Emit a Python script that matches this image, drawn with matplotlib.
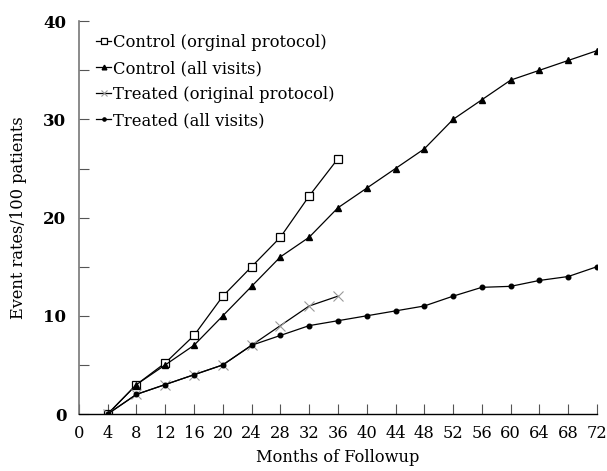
import matplotlib
matplotlib.use("Agg")
import matplotlib.pyplot as plt
from matplotlib.ticker import MultipleLocator

# event rates per 100 patients by month of followup
months_orig = [4, 8, 12, 16, 20, 24, 28, 32, 36]
months_all = [4, 8, 12, 16, 20, 24, 28, 32, 36, 40, 44, 48, 52, 56, 60, 64, 68, 72]

control_orig = [0, 3, 5.2, 8, 12, 15, 18, 22.2, 26]
control_all = [0, 3, 5, 7, 10, 13, 16, 18, 21, 23, 25, 27, 30, 32, 34, 35, 36, 37]
treated_orig = [0, 2, 3, 4, 5, 7, 9, 11, 12]
treated_all = [0, 2, 3, 4, 5, 7, 8, 9, 9.5, 10, 10.5, 11, 12, 12.9, 13, 13.6, 14, 15]

x_ticks = list(range(0, 73, 4))
y_ticks = [0, 10, 20, 30, 40]

plt.rcParams['font.family'] = ['DejaVu Serif']

fig = plt.figure(figsize=(6.07, 4.71), dpi=100)
ax = fig.add_axes([0.130, 0.121, 0.8535, 0.834])

ax.plot(months_orig, control_orig, color='black', lw=0.9, marker='s', ms=5.5,
        mfc='white', mec='black', mew=0.9, label='Control (orginal protocol)')
ax.plot(months_all, control_all, color='black', lw=0.9, marker='^', ms=4.8,
        label='Control (all visits)')
ax.plot(months_orig, treated_orig, color='black', lw=0.9, marker='x', ms=6.5,
        mec='#999999', mew=0.8, label='Treated (original protocol)')
ax.plot(months_all, treated_all, color='black', lw=0.9, marker='o', ms=3.3,
        label='Treated (all visits)')

ax.set_xlim(0, 72)
ax.set_ylim(0, 40)
ax.set_xticks(x_ticks)
ax.set_yticks(y_ticks)
ax.yaxis.set_minor_locator(MultipleLocator(5))

for side in ['top', 'right']:
    ax.spines[side].set_visible(False)
ax.spines['left'].set_color('#777777')
ax.spines['left'].set_linewidth(1.2)
ax.spines['bottom'].set_linewidth(1.0)

ax.tick_params(axis='x', direction='in', length=7, width=0.8, color='#555555',
               labelsize=11.7, pad=8)
ax.tick_params(axis='y', which='both', direction='in', length=7, width=0.8,
               color='#555555', labelsize=12, pad=9)
for lbl in ax.get_yticklabels():
    lbl.set_fontweight('bold')

ax.set_xlabel('Months of Followup', fontsize=11.7, labelpad=5)
ax.set_ylabel('Event rates/100 patients', fontsize=11.7, labelpad=12)

ax.legend(loc='upper left', bbox_to_anchor=(0.005, 1.005), frameon=False,
          fontsize=11.8, handlelength=0.9, handletextpad=0.15,
          labelspacing=0.55, markerscale=0.7)

fig.savefig('out.png', dpi=100)
